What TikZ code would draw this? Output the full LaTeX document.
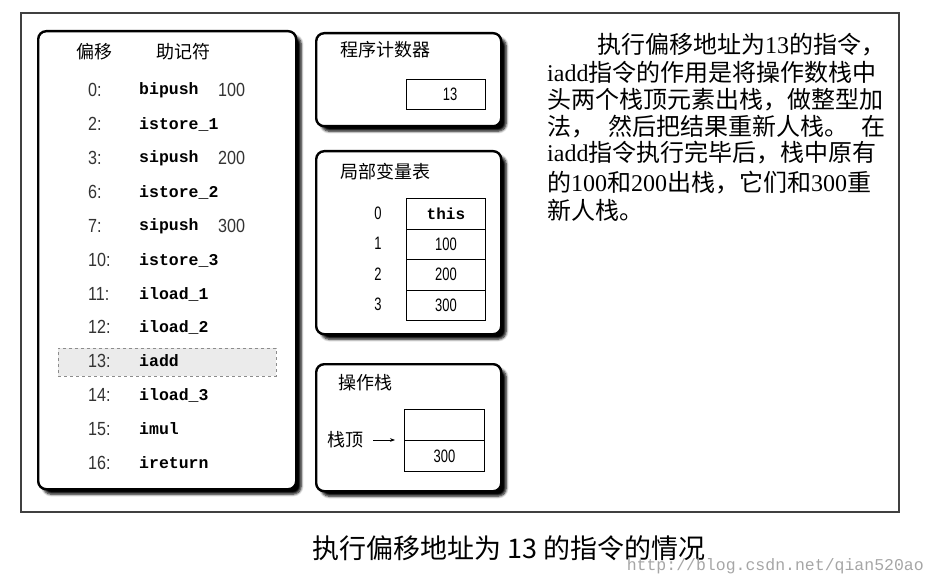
\documentclass[tikz,border=0pt]{standalone}
\usepackage{fontspec}
\setmainfont{Liberation Serif}
\newfontfamily\cjk{Noto Sans CJK SC}
\newfontfamily\codefont{Liberation Mono}
\newfontfamily\numfont[FakeStretch=0.85]{Liberation Sans}
\newfontfamily\tabnum[FakeStretch=0.72]{Liberation Sans}
\usetikzlibrary{shadows.blur,arrows.meta}
\tikzset{
  panel/.style={draw, line width=2.4pt, rounded corners=8pt, fill=white, anchor=north west,
    blur shadow={shadow xshift=5pt, shadow yshift=-5pt, shadow blur radius=2.5pt, shadow blur steps=6, shadow opacity=100}},
  cell/.style={draw, line width=0.8pt, anchor=north west, inner sep=0pt, minimum width=79pt},
  txt/.style={inner sep=0pt},
  title/.style={txt, font=\cjk\fontsize{18}{20}\selectfont},
  off/.style={txt, anchor=west, font=\numfont\fontsize{19}{20}\selectfont, text=black!80},
  mn/.style={txt, anchor=west, font=\codefont\bfseries\fontsize{16.5}{18}\selectfont},
  tn/.style={txt, font=\tabnum\fontsize{18}{20}\selectfont},
  body/.style={txt, anchor=base west, font=\fontsize{24}{27}\selectfont},
}
\begin{document}
\begin{tikzpicture}[x=1pt,y=-1pt]
\useasboundingbox (0,0) rectangle (932,583);
% outer frame
\draw[line width=1.3pt, black!75] (21,13) rectangle (899,512);

% code panel
\node[panel, minimum width=258pt, minimum height=458pt] (code) at (37,30) {};
\node[title] (h1) at (94,52) {偏移};
\node[title] (h2) at (183,52) {助记符};
\node[draw=black!45, dashed, fill=black!8, anchor=north west, minimum width=218pt, minimum height=28pt, inner sep=0pt] (hl) at (58,348) {};
\foreach \y/\o/\m [count=\i] in {90/0:/bipush, 124/2:/istore\_1, 158/3:/sipush, 192/6:/istore\_2,
  226/7:/sipush, 260/10:/istore\_3, 294/11:/iload\_1, 327/12:/iload\_2, 361/13:/iadd,
  395/14:/iload\_3, 429/15:/imul, 463/16:/ireturn}{
  \node[off] (off\i) at (88,\y) {\o};
  \node[mn] (mn\i) at (139,\y) {\m};
}
\node[off] (arg1) at (218,90) {100};
\node[off] (arg3) at (218,158) {200};
\node[off] (arg5) at (218,226) {300};

% program counter
\node[panel, minimum width=185pt, minimum height=93pt] (pc) at (315,32) {};
\node[title, anchor=west] (pct) at (340,50) {程序计数器};
\node[cell, minimum height=30pt] (pcv) at (406,79) {};
\node[tn] (pcn) at (450,94) {13};

% local variable table
\node[panel, minimum width=185pt, minimum height=183pt] (lv) at (315,150) {};
\node[title, anchor=west] (lvt) at (340,172) {局部变量表};
\foreach \v [count=\i from 0] in {{\codefont\bfseries\fontsize{16}{18}\selectfont this},100,200,300}{
  \node[cell, minimum height=30.5pt] (lc\i) at (406,{198+30.5*\i}) {};
  \node[tn] (lv\i) at (lc\i.center) {\v};
  \node[tn] (li\i) at (378,{213+30.5*\i}) {\i};
}

% operand stack
\node[panel, minimum width=185pt, minimum height=127pt] (os) at (315,363) {};
\node[title, anchor=west] (ost) at (338,383) {操作栈};
\node[cell, minimum width=80pt, minimum height=31pt] (s1) at (404,409) {};
\node[cell, minimum width=80pt, minimum height=31pt] (s2) at (404,440) {};
\node[tn] (s2v) at (s2.center) {300};
\node[title, anchor=west] (top) at (327,440) {栈顶};
\draw[-{Stealth[length=5pt]}, line width=0.9pt, shorten <=10pt, shorten >=9pt] (top.east) -- (s2.north west);

% description text
\node[body] (l1) at (597,54) {{\cjk 执行偏移地址为}13{\cjk 的指令，}};
\node[body] (l2) at (547,82) {iadd{\cjk 指令的作用是将操作数栈中}};
\node[body] (l3) at (547,109) {\cjk 头两个栈顶元素出栈，做整型加};
\node[body] (l4) at (547,136) {\cjk\makebox[338pt][s]{法，\hfill 然后把结果重新人栈。\hfill 在}};
\node[body] (l5) at (547,162) {iadd{\cjk 指令执行完毕后，栈中原有}};
\node[body] (l6) at (547,191) {{\cjk 的}100{\cjk 和}200{\cjk 出栈，它们和}300{\cjk 重}};
\node[body] (l7) at (547,219) {\cjk 新人栈。};

% caption
\node[txt, font=\cjk\fontsize{27}{29}\selectfont] (cap) at (509,548) {执行偏移地址为 13 的指令的情况};
\node[txt, anchor=east, font=\codefont\fontsize{16.5}{18}\selectfont, text=black!35] (wm) at (924,566) {http://blog.csdn.net/qian520ao};
\end{tikzpicture}
\end{document}
